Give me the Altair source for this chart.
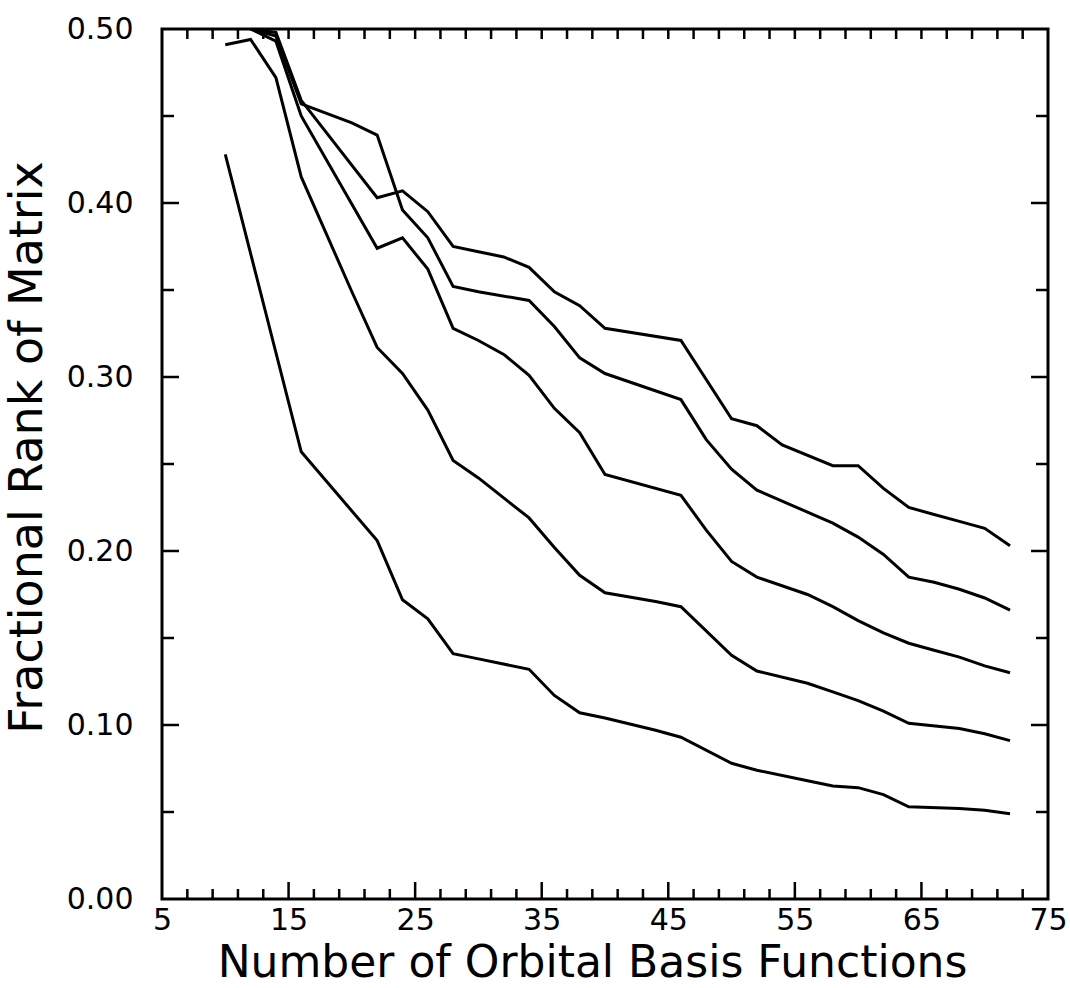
import altair as alt
import pandas as pd

# Five rank curves: number of orbital basis functions vs. fractional rank
n_basis_1 = [10, 16, 22, 24, 26, 28, 30, 34, 36, 38, 40, 44, 46, 50, 52, 56, 58, 60, 62, 64, 68, 70, 72]
rank_1 = [0.428, 0.257, 0.206, 0.172, 0.161, 0.141, 0.138, 0.132, 0.117, 0.107, 0.104, 0.097, 0.093,
          0.078, 0.074, 0.068, 0.065, 0.064, 0.060, 0.053, 0.052, 0.051, 0.049]

n_basis_2 = [10, 12, 14, 16, 20, 22, 24, 26, 28, 30, 34, 36, 38, 40, 44, 46, 50, 52, 56, 58, 60, 62, 64,
             68, 70, 72]
rank_2 = [0.491, 0.494, 0.472, 0.415, 0.349, 0.317, 0.302, 0.281, 0.252, 0.242, 0.219, 0.202, 0.186,
          0.176, 0.171, 0.168, 0.140, 0.131, 0.124, 0.119, 0.114, 0.108, 0.101, 0.098, 0.095, 0.091]

n_basis_3 = [12, 14, 16, 22, 24, 26, 28, 30, 32, 34, 36, 38, 40, 46, 48, 50, 52, 56, 58, 60, 62, 64, 66,
             68, 70, 72]
rank_3 = [0.500, 0.493, 0.450, 0.374, 0.380, 0.362, 0.328, 0.321, 0.313, 0.301, 0.282, 0.268, 0.244,
          0.232, 0.212, 0.194, 0.185, 0.175, 0.168, 0.160, 0.153, 0.147, 0.143, 0.139, 0.134, 0.130]

n_basis_4 = [12, 14, 16, 20, 22, 24, 26, 28, 30, 34, 36, 38, 40, 46, 48, 50, 52, 58, 60, 62, 64, 66, 68,
             70, 72]
rank_4 = [0.500, 0.496, 0.457, 0.446, 0.439, 0.396, 0.380, 0.352, 0.349, 0.344, 0.329, 0.311, 0.302,
          0.287, 0.264, 0.247, 0.235, 0.216, 0.208, 0.198, 0.185, 0.182, 0.178, 0.173, 0.166]

n_basis_5 = [12, 14, 16, 22, 24, 26, 28, 30, 32, 34, 36, 38, 40, 46, 50, 52, 54, 58, 60, 62, 64, 66, 68,
             70, 72]
rank_5 = [0.500, 0.498, 0.459, 0.403, 0.407, 0.395, 0.375, 0.372, 0.369, 0.363, 0.349, 0.341, 0.328,
          0.321, 0.276, 0.272, 0.261, 0.249, 0.249, 0.236, 0.225, 0.221, 0.217, 0.213, 0.203]

# Axis labels and inward tick positions
x_label_values = [5, 15, 25, 35, 45, 55, 65, 75]
y_label_values = [0.0, 0.1, 0.2, 0.3, 0.4, 0.5]
x_major_ticks = [15, 25, 35, 45, 55, 65]
x_minor_ticks = [7, 9, 11, 13, 17, 19, 21, 23, 27, 29, 31, 33, 37, 39, 41, 43, 47, 49, 51, 53,
                 57, 59, 61, 63, 67, 69, 71, 73]
y_major_ticks = [0.1, 0.2, 0.3, 0.4]
y_minor_ticks = [0.05, 0.15, 0.25, 0.35, 0.45]

curves = [(n_basis_1, rank_1), (n_basis_2, rank_2), (n_basis_3, rank_3),
          (n_basis_4, rank_4), (n_basis_5, rank_5)]
rows = []
for i, (xs, vs) in enumerate(curves, start=1):
    for x, v in zip(xs, vs):
        rows.append({"curve": f"curve {i}", "n": x, "rank": v})
df = pd.DataFrame(rows)

W, H = 886, 870
FONT = "DejaVu Sans"
xscale = alt.Scale(domain=[5, 75], nice=False, zero=False)
yscale = alt.Scale(domain=[0, 0.5], nice=False, zero=False)

# One axis definition per channel, shared by every layer so they merge cleanly
x_axis = alt.Axis(values=x_label_values, format="d", title="Number of Orbital Basis Functions",
                  ticks=False, domain=False, grid=False, labelFontSize=30, labelPadding=6,
                  labelFont=FONT, labelColor="black", labelFlush=False,
                  titleFont=FONT, titleFontSize=44, titleFontWeight="normal", titleColor="black",
                  titleX=430, titleY=77, titleBaseline="alphabetic", titleAlign="center")
y_axis = alt.Axis(values=y_label_values, format=".2f", title="Fractional Rank of Matrix",
                  ticks=False, domain=False, grid=False, labelFontSize=30, labelPadding=29,
                  labelFont=FONT, labelColor="black", labelFlush=False,
                  titleFont=FONT, titleFontSize=46, titleFontWeight="normal", titleColor="black",
                  titleAngle=270, titleX=-121, titleY=418, titleBaseline="alphabetic",
                  titleAlign="center")

lines = alt.Chart(df).mark_line(color="black", strokeWidth=3, clip=True).encode(
    x=alt.X("n:Q", scale=xscale, axis=x_axis, title="Number of Orbital Basis Functions"),
    y=alt.Y("rank:Q", scale=yscale, axis=y_axis, title="Fractional Rank of Matrix"),
    detail="curve:N",
    order="n:Q",
)


def x_ticks(values, y0, y1):
    return alt.Chart(pd.DataFrame({"pos": values})).mark_rule(color="black", strokeWidth=2.5).encode(
        x=alt.X("pos:Q", scale=xscale, axis=x_axis, title="Number of Orbital Basis Functions"),
        y=alt.value(y0), y2=alt.value(y1))


def y_ticks(values, x0, x1):
    return alt.Chart(pd.DataFrame({"pos": values})).mark_rule(color="black", strokeWidth=2.5).encode(
        y=alt.Y("pos:Q", scale=yscale, axis=y_axis, title="Fractional Rank of Matrix"),
        x=alt.value(x0), x2=alt.value(x1))


tick_layers = [
    x_ticks(x_minor_ticks, H, H - 10),
    x_ticks(x_major_ticks, H, H - 17),
    x_ticks(x_minor_ticks + x_major_ticks, 0, 10),
    y_ticks(y_minor_ticks, 0, 12),
    y_ticks(y_major_ticks, 0, 17),
    y_ticks(y_minor_ticks, W, W - 12),
    y_ticks(y_major_ticks, W, W - 17),
]

chart = alt.layer(lines, *tick_layers).properties(
    width=W, height=H,
    autosize=alt.AutoSizeParams(type="none"),
    padding={"left": 162, "top": 29, "right": 22, "bottom": 89},
    background="white",
).configure_view(stroke="black", strokeWidth=3)

chart.save("out.html", embed_options={"renderer": "svg", "actions": False})
